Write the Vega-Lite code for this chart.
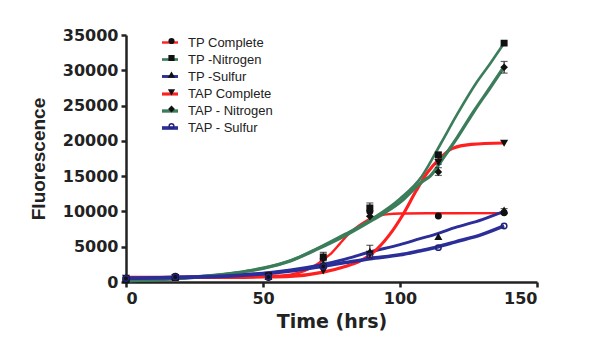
{
  "$schema": "https://vega.github.io/schema/vega-lite/v6.json",
  "width": 411,
  "height": 247,
  "autosize": "none",
  "padding": {"left": 126, "top": 35, "right": 55, "bottom": 55},
  "background": "white",
  "config": {"view": {"stroke": null}},
  "datasets": {
    "curves": [
      {"series": "TP Complete", "ord": 1, "t": 0, "y": 650},
      {"series": "TP Complete", "ord": 1, "t": 10, "y": 660},
      {"series": "TP Complete", "ord": 1, "t": 20, "y": 680},
      {"series": "TP Complete", "ord": 1, "t": 30, "y": 700},
      {"series": "TP Complete", "ord": 1, "t": 40, "y": 730},
      {"series": "TP Complete", "ord": 1, "t": 50, "y": 800},
      {"series": "TP Complete", "ord": 1, "t": 55, "y": 880},
      {"series": "TP Complete", "ord": 1, "t": 60, "y": 1050},
      {"series": "TP Complete", "ord": 1, "t": 65, "y": 1550},
      {"series": "TP Complete", "ord": 1, "t": 70, "y": 2600},
      {"series": "TP Complete", "ord": 1, "t": 72, "y": 3200},
      {"series": "TP Complete", "ord": 1, "t": 75, "y": 4100},
      {"series": "TP Complete", "ord": 1, "t": 78, "y": 5400},
      {"series": "TP Complete", "ord": 1, "t": 81, "y": 6700},
      {"series": "TP Complete", "ord": 1, "t": 84, "y": 7700},
      {"series": "TP Complete", "ord": 1, "t": 87, "y": 8500},
      {"series": "TP Complete", "ord": 1, "t": 90, "y": 9100},
      {"series": "TP Complete", "ord": 1, "t": 93, "y": 9450},
      {"series": "TP Complete", "ord": 1, "t": 96, "y": 9620},
      {"series": "TP Complete", "ord": 1, "t": 100, "y": 9700},
      {"series": "TP Complete", "ord": 1, "t": 110, "y": 9740},
      {"series": "TP Complete", "ord": 1, "t": 120, "y": 9750},
      {"series": "TP Complete", "ord": 1, "t": 138, "y": 9760},
      {"series": "TP -Nitrogen", "ord": 2, "t": 0, "y": 150},
      {"series": "TP -Nitrogen", "ord": 2, "t": 10, "y": 300},
      {"series": "TP -Nitrogen", "ord": 2, "t": 20, "y": 520},
      {"series": "TP -Nitrogen", "ord": 2, "t": 30, "y": 850},
      {"series": "TP -Nitrogen", "ord": 2, "t": 40, "y": 1300},
      {"series": "TP -Nitrogen", "ord": 2, "t": 50, "y": 1950},
      {"series": "TP -Nitrogen", "ord": 2, "t": 60, "y": 3000},
      {"series": "TP -Nitrogen", "ord": 2, "t": 70, "y": 4800},
      {"series": "TP -Nitrogen", "ord": 2, "t": 80, "y": 6800},
      {"series": "TP -Nitrogen", "ord": 2, "t": 90, "y": 9000},
      {"series": "TP -Nitrogen", "ord": 2, "t": 100, "y": 11800},
      {"series": "TP -Nitrogen", "ord": 2, "t": 108, "y": 15000},
      {"series": "TP -Nitrogen", "ord": 2, "t": 115, "y": 19700},
      {"series": "TP -Nitrogen", "ord": 2, "t": 121, "y": 23850},
      {"series": "TP -Nitrogen", "ord": 2, "t": 128, "y": 28300},
      {"series": "TP -Nitrogen", "ord": 2, "t": 133, "y": 31000},
      {"series": "TP -Nitrogen", "ord": 2, "t": 138, "y": 33850},
      {"series": "TP -Sulfur", "ord": 3, "t": 0, "y": 550},
      {"series": "TP -Sulfur", "ord": 3, "t": 10, "y": 600},
      {"series": "TP -Sulfur", "ord": 3, "t": 20, "y": 700},
      {"series": "TP -Sulfur", "ord": 3, "t": 30, "y": 850},
      {"series": "TP -Sulfur", "ord": 3, "t": 40, "y": 1000},
      {"series": "TP -Sulfur", "ord": 3, "t": 50, "y": 1250},
      {"series": "TP -Sulfur", "ord": 3, "t": 60, "y": 1700},
      {"series": "TP -Sulfur", "ord": 3, "t": 70, "y": 2350},
      {"series": "TP -Sulfur", "ord": 3, "t": 80, "y": 3250},
      {"series": "TP -Sulfur", "ord": 3, "t": 89, "y": 4250},
      {"series": "TP -Sulfur", "ord": 3, "t": 100, "y": 5300},
      {"series": "TP -Sulfur", "ord": 3, "t": 107, "y": 6100},
      {"series": "TP -Sulfur", "ord": 3, "t": 114, "y": 6900},
      {"series": "TP -Sulfur", "ord": 3, "t": 120, "y": 7700},
      {"series": "TP -Sulfur", "ord": 3, "t": 130, "y": 8850},
      {"series": "TP -Sulfur", "ord": 3, "t": 138, "y": 10000},
      {"series": "TAP Complete", "ord": 4, "t": 0, "y": 650},
      {"series": "TAP Complete", "ord": 4, "t": 20, "y": 650},
      {"series": "TAP Complete", "ord": 4, "t": 40, "y": 650},
      {"series": "TAP Complete", "ord": 4, "t": 50, "y": 700},
      {"series": "TAP Complete", "ord": 4, "t": 60, "y": 800},
      {"series": "TAP Complete", "ord": 4, "t": 72, "y": 1400},
      {"series": "TAP Complete", "ord": 4, "t": 80, "y": 2200},
      {"series": "TAP Complete", "ord": 4, "t": 85, "y": 2900},
      {"series": "TAP Complete", "ord": 4, "t": 90, "y": 4100},
      {"series": "TAP Complete", "ord": 4, "t": 96, "y": 6600},
      {"series": "TAP Complete", "ord": 4, "t": 101, "y": 9500},
      {"series": "TAP Complete", "ord": 4, "t": 106, "y": 13000},
      {"series": "TAP Complete", "ord": 4, "t": 110, "y": 15500},
      {"series": "TAP Complete", "ord": 4, "t": 114, "y": 17300},
      {"series": "TAP Complete", "ord": 4, "t": 119, "y": 18900},
      {"series": "TAP Complete", "ord": 4, "t": 126, "y": 19500},
      {"series": "TAP Complete", "ord": 4, "t": 138, "y": 19700},
      {"series": "TAP - Nitrogen", "ord": 5, "t": 0, "y": 150},
      {"series": "TAP - Nitrogen", "ord": 5, "t": 10, "y": 300},
      {"series": "TAP - Nitrogen", "ord": 5, "t": 20, "y": 520},
      {"series": "TAP - Nitrogen", "ord": 5, "t": 30, "y": 850},
      {"series": "TAP - Nitrogen", "ord": 5, "t": 40, "y": 1300},
      {"series": "TAP - Nitrogen", "ord": 5, "t": 50, "y": 1950},
      {"series": "TAP - Nitrogen", "ord": 5, "t": 60, "y": 3000},
      {"series": "TAP - Nitrogen", "ord": 5, "t": 70, "y": 4700},
      {"series": "TAP - Nitrogen", "ord": 5, "t": 80, "y": 6600},
      {"series": "TAP - Nitrogen", "ord": 5, "t": 90, "y": 8800},
      {"series": "TAP - Nitrogen", "ord": 5, "t": 100, "y": 11300},
      {"series": "TAP - Nitrogen", "ord": 5, "t": 108, "y": 14200},
      {"series": "TAP - Nitrogen", "ord": 5, "t": 111, "y": 15000},
      {"series": "TAP - Nitrogen", "ord": 5, "t": 116, "y": 17700},
      {"series": "TAP - Nitrogen", "ord": 5, "t": 121, "y": 20530},
      {"series": "TAP - Nitrogen", "ord": 5, "t": 127, "y": 24200},
      {"series": "TAP - Nitrogen", "ord": 5, "t": 133, "y": 27600},
      {"series": "TAP - Nitrogen", "ord": 5, "t": 138, "y": 30500},
      {"series": "TAP - Sulfur", "ord": 6, "t": 0, "y": 550},
      {"series": "TAP - Sulfur", "ord": 6, "t": 20, "y": 650},
      {"series": "TAP - Sulfur", "ord": 6, "t": 40, "y": 900},
      {"series": "TAP - Sulfur", "ord": 6, "t": 50, "y": 1150},
      {"series": "TAP - Sulfur", "ord": 6, "t": 60, "y": 1550},
      {"series": "TAP - Sulfur", "ord": 6, "t": 72, "y": 2250},
      {"series": "TAP - Sulfur", "ord": 6, "t": 80, "y": 2750},
      {"series": "TAP - Sulfur", "ord": 6, "t": 89, "y": 3300},
      {"series": "TAP - Sulfur", "ord": 6, "t": 100, "y": 3850},
      {"series": "TAP - Sulfur", "ord": 6, "t": 107, "y": 4400},
      {"series": "TAP - Sulfur", "ord": 6, "t": 114, "y": 5000},
      {"series": "TAP - Sulfur", "ord": 6, "t": 120, "y": 5650},
      {"series": "TAP - Sulfur", "ord": 6, "t": 130, "y": 6750},
      {"series": "TAP - Sulfur", "ord": 6, "t": 138, "y": 7950}
    ],
    "points": [
      {"series": "TP Complete", "ord": 1, "t": 0, "y": 550},
      {"series": "TP Complete", "ord": 1, "t": 18, "y": 800},
      {"series": "TP Complete", "ord": 1, "t": 52, "y": 650},
      {"series": "TP Complete", "ord": 1, "t": 72, "y": 2300},
      {"series": "TP Complete", "ord": 1, "t": 89, "y": 10000},
      {"series": "TP Complete", "ord": 1, "t": 114, "y": 9350},
      {"series": "TP Complete", "ord": 1, "t": 138, "y": 9800},
      {"series": "TP -Nitrogen", "ord": 2, "t": 0, "y": 300},
      {"series": "TP -Nitrogen", "ord": 2, "t": 18, "y": 650},
      {"series": "TP -Nitrogen", "ord": 2, "t": 52, "y": 900},
      {"series": "TP -Nitrogen", "ord": 2, "t": 72, "y": 3540},
      {"series": "TP -Nitrogen", "ord": 2, "t": 89, "y": 10500},
      {"series": "TP -Nitrogen", "ord": 2, "t": 114, "y": 18000},
      {"series": "TP -Nitrogen", "ord": 2, "t": 138, "y": 33850},
      {"series": "TP -Sulfur", "ord": 3, "t": 0, "y": 500},
      {"series": "TP -Sulfur", "ord": 3, "t": 18, "y": 750},
      {"series": "TP -Sulfur", "ord": 3, "t": 52, "y": 750},
      {"series": "TP -Sulfur", "ord": 3, "t": 72, "y": 2500},
      {"series": "TP -Sulfur", "ord": 3, "t": 89, "y": 4300},
      {"series": "TP -Sulfur", "ord": 3, "t": 114, "y": 6400},
      {"series": "TP -Sulfur", "ord": 3, "t": 138, "y": 10150},
      {"series": "TAP Complete", "ord": 4, "t": 0, "y": 600},
      {"series": "TAP Complete", "ord": 4, "t": 18, "y": 700},
      {"series": "TAP Complete", "ord": 4, "t": 52, "y": 700},
      {"series": "TAP Complete", "ord": 4, "t": 72, "y": 1600},
      {"series": "TAP Complete", "ord": 4, "t": 89, "y": 4000},
      {"series": "TAP Complete", "ord": 4, "t": 114, "y": 17000},
      {"series": "TAP Complete", "ord": 4, "t": 138, "y": 19700},
      {"series": "TAP - Nitrogen", "ord": 5, "t": 0, "y": 300},
      {"series": "TAP - Nitrogen", "ord": 5, "t": 18, "y": 650},
      {"series": "TAP - Nitrogen", "ord": 5, "t": 52, "y": 800},
      {"series": "TAP - Nitrogen", "ord": 5, "t": 72, "y": 3300},
      {"series": "TAP - Nitrogen", "ord": 5, "t": 89, "y": 9300},
      {"series": "TAP - Nitrogen", "ord": 5, "t": 114, "y": 15600},
      {"series": "TAP - Nitrogen", "ord": 5, "t": 138, "y": 30440},
      {"series": "TAP - Sulfur", "ord": 6, "t": 0, "y": 500},
      {"series": "TAP - Sulfur", "ord": 6, "t": 18, "y": 700},
      {"series": "TAP - Sulfur", "ord": 6, "t": 52, "y": 700},
      {"series": "TAP - Sulfur", "ord": 6, "t": 72, "y": 2200},
      {"series": "TAP - Sulfur", "ord": 6, "t": 89, "y": 3640},
      {"series": "TAP - Sulfur", "ord": 6, "t": 114, "y": 4870},
      {"series": "TAP - Sulfur", "ord": 6, "t": 138, "y": 7930}
    ],
    "errs": [
      {"series": "TP -Nitrogen", "t": 72, "lo": 3000, "hi": 4200},
      {"series": "TP -Nitrogen", "t": 89, "lo": 9300, "hi": 11200},
      {"series": "TAP - Nitrogen", "t": 114, "lo": 15100, "hi": 16200},
      {"series": "TAP Complete", "t": 114, "lo": 16700, "hi": 18400},
      {"series": "TAP - Nitrogen", "t": 138, "lo": 29600, "hi": 31250},
      {"series": "TP -Sulfur", "t": 138, "lo": 9700, "hi": 10400},
      {"series": "TAP - Sulfur", "t": 89, "lo": 3500, "hi": 5200}
    ]
  },
  "encoding": {
    "x": {
      "field": "t", "type": "quantitative", "title": "Time (hrs)",
      "scale": {"domain": [0, 150], "nice": false},
      "axis": {
        "values": [0, 50, 100, 150], "grid": false,
        "domainColor": "#222", "domainWidth": 2.5,
        "tickColor": "#222", "tickWidth": 2.5, "tickSize": 5,
        "labelFont": "DejaVu Sans", "labelFontWeight": "bold", "labelFontSize": 16, "labelColor": "#222", "labelPadding": 3,
        "titleFont": "DejaVu Sans", "titleFontWeight": "bold", "titleFontSize": 19, "titleColor": "#222", "titlePadding": 6
      }
    },
    "y": {
      "field": "y", "type": "quantitative", "title": "Fluorescence",
      "scale": {"domain": [0, 35000], "nice": false},
      "axis": {
        "values": [0, 5000, 10000, 15000, 20000, 25000, 30000, 35000], "format": "d", "grid": false,
        "domainColor": "#222", "domainWidth": 2.5,
        "tickColor": "#222", "tickWidth": 2.5, "tickSize": 5,
        "labelFont": "DejaVu Sans", "labelFontWeight": "bold", "labelFontSize": 16, "labelColor": "#222", "labelPadding": 3,
        "titleFont": "Liberation Sans", "titleFontWeight": "bold", "titleFontSize": 19, "titleColor": "#222", "titlePadding": 14
      }
    }
  },
  "layer": [
    {
      "data": {"name": "curves"},
      "mark": {"type": "line", "interpolate": "monotone"},
      "encoding": {
        "color": {
          "field": "series", "type": "nominal",
          "sort": {"field": "ord", "op": "min"},
          "scale": {"range": ["#ff1f1f", "#3b7d5b", "#2b2e98", "#ff1f1f", "#3b7d5b", "#2b2e98"]},
          "legend": {
            "orient": "none", "legendX": 34, "legendY": -2, "title": null, "padding": 0,
            "symbolType": "stroke", "symbolSize": 256, "symbolStrokeWidth": 3,
            "labelFont": "Liberation Sans", "labelFontSize": 13, "labelColor": "#222", "labelOffset": 8,
            "rowPadding": 0
          }
        },
        "strokeWidth": {
          "field": "series", "type": "ordinal",
          "sort": {"field": "ord", "op": "min"},
          "scale": {"range": [2.4, 3.6, 3, 2.6, 3.6, 3]},
          "legend": null
        }
      }
    },
    {
      "data": {"name": "errs"},
      "mark": {"type": "errorbar", "ticks": {"size": 7, "color": "#222", "thickness": 1.2}, "rule": {"color": "#222", "strokeWidth": 1.2}},
      "encoding": {
        "y": {"field": "lo", "type": "quantitative"},
        "y2": {"field": "hi"}
      }
    },
    {
      "data": {"name": "points"},
      "mark": {"type": "point", "filled": true, "size": 30, "strokeWidth": 1.5, "opacity": 1},
      "encoding": {
        "shape": {
          "field": "series", "type": "nominal",
          "sort": {"field": "ord", "op": "min"},
          "scale": {"range": ["circle", "square", "triangle-up", "triangle-down", "diamond", "circle"]},
          "legend": {
            "orient": "none", "legendX": 39, "legendY": -0.5, "title": null, "padding": 0,
            "symbolSize": 22, "symbolStrokeWidth": 1.5,
            "labelFont": "Liberation Sans", "labelFontSize": 13, "labelExpr": "''",
            "rowPadding": 3
          }
        },
        "fill": {
          "field": "series", "type": "nominal",
          "sort": {"field": "ord", "op": "min"},
          "scale": {"range": ["#111", "#111", "#111", "#111", "#111", "transparent"]}
        },
        "stroke": {
          "field": "series", "type": "nominal",
          "sort": {"field": "ord", "op": "min"},
          "scale": {"range": ["#111", "#111", "#111", "#111", "#111", "#22237a"]}
        }
      }
    }
  ]
}
